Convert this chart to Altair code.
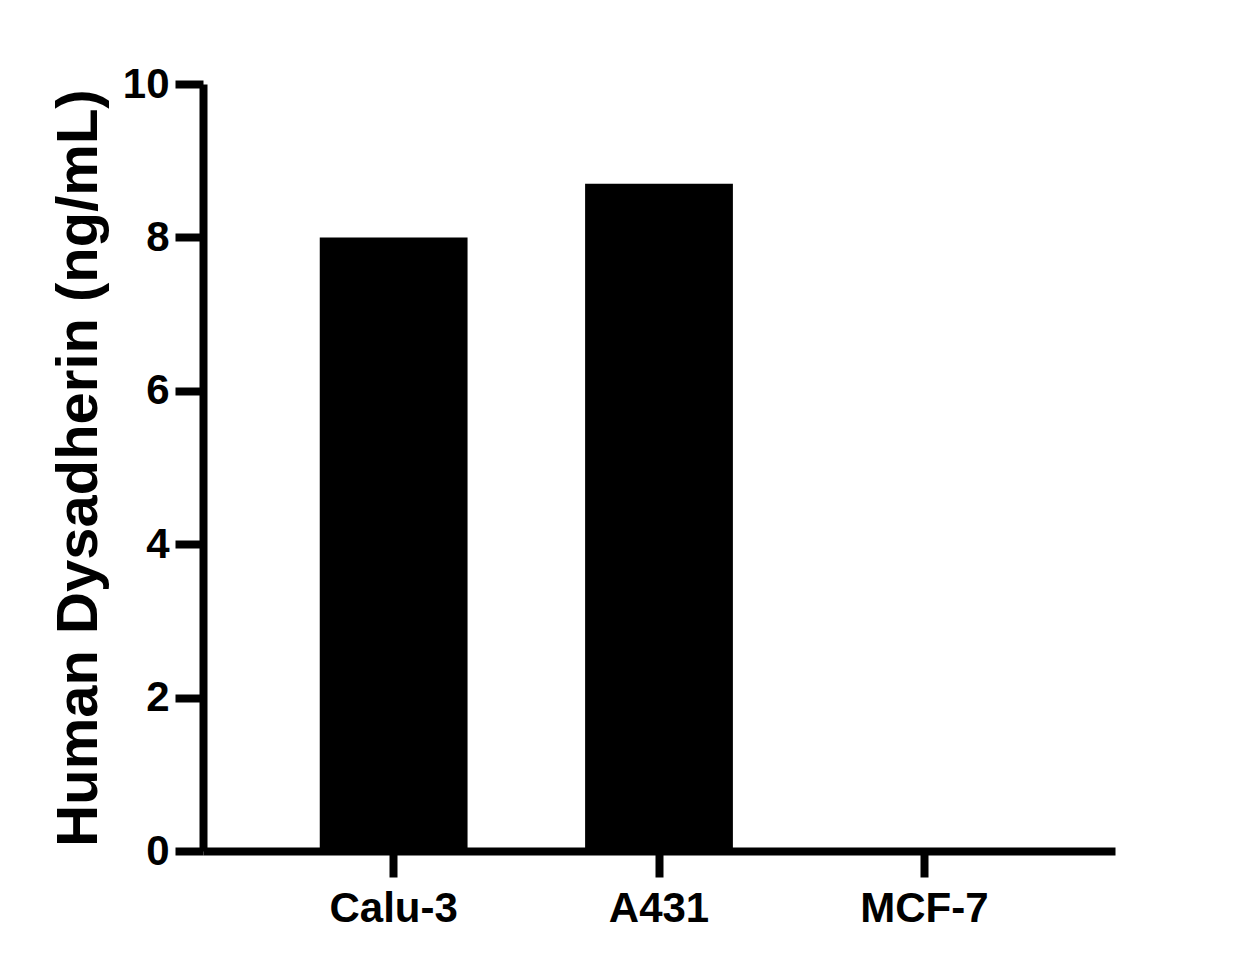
import altair as alt
import pandas as pd

categories = ["Calu-3", "A431", "MCF-7"]
values = [8.0, 8.7, 0.0]

df = pd.DataFrame({"cell": categories, "conc": values})

FONT = "Liberation Sans"

chart = alt.Chart(df).mark_bar(color="black").encode(
    x=alt.X("cell:N", sort=categories, title=None,
            scale=alt.Scale(paddingInner=0.443, paddingOuter=0.44),
            axis=alt.Axis(labelAngle=0, labelFont=FONT, labelFontWeight="bold",
                          labelFontSize=42, labelColor="black", labelPadding=11,
                          tickSize=26, tickWidth=8, tickColor="black",
                          domainWidth=8, domainColor="black", grid=False)),
    y=alt.Y("conc:Q", title="Human Dysadherin (ng/mL)",
            scale=alt.Scale(domain=[0, 10], nice=False),
            axis=alt.Axis(values=[0, 2, 4, 6, 8, 10], labelFont=FONT, labelFontWeight="bold",
                          labelFontSize=42, labelColor="black", labelPadding=6,
                          tickSize=28, tickWidth=8, tickColor="black",
                          domainWidth=8, domainColor="black", grid=False,
                          titleFont=FONT, titleFontWeight="bold", titleFontSize=58,
                          titleColor="black", titlePadding=14)),
).properties(
    width=912, height=767,
    autosize=alt.AutoSizeParams(type="none"),
    padding={"left": 195, "top": 76, "right": 120, "bottom": 110},
).configure_view(stroke=None)

chart.save("out.html", embed_options={"renderer": "svg", "actions": False})
